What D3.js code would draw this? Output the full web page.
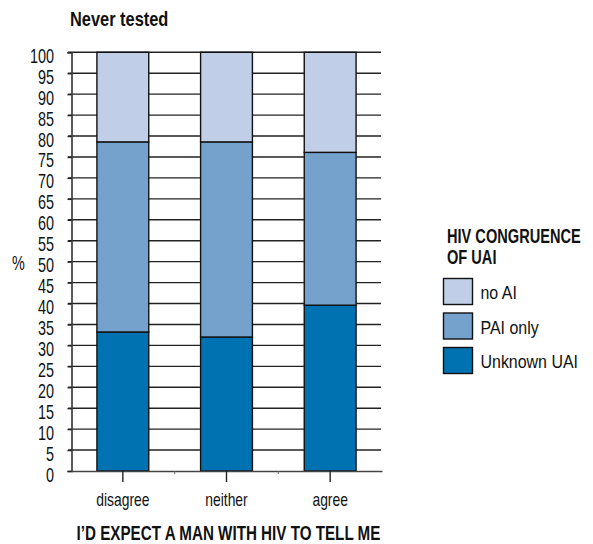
<!DOCTYPE html>
<html>
<head>
<meta charset="utf-8">
<script src="https://cdn.jsdelivr.net/npm/d3@7"></script>
<style>
  html, body { margin: 0; padding: 0; background: #fff; }
  svg { display: block; }
  text { font-family: "Liberation Sans", Arial, sans-serif; fill: #111; }
</style>
</head>
<body>
<svg id="chart" width="593" height="544"></svg>
<script>
// Response categories on the x axis
const categories = ["disagree", "neither", "agree"];
// Stacked series, bottom to top (percent)
const seriesNames = ["Unknown UAI", "PAI only", "no AI"];
const unknownUAI = [33.2, 32.0, 39.6];
const paiOnly    = [45.4, 46.6, 36.5];
const noAI       = [21.4, 21.4, 23.9];
const seriesColors = ["#0072b2", "#75a1cd", "#c0cee7"];
const yTicks = [0, 5, 10, 15, 20, 25, 30, 35, 40, 45, 50, 55, 60, 65, 70, 75, 80, 85, 90, 95, 100];

const svg = d3.select("#chart");

// squeeze text horizontally to get a condensed face
function condense(sel, s) {
  sel.each(function () {
    const t = d3.select(this);
    const x0 = +(t.attr("x") || 0);
    t.attr("x", x0 / s).attr("transform", `scale(${s},1)`);
  });
  return sel;
}

const x = d3.scaleBand().domain(categories).range([71, 382]).paddingInner(0.5).paddingOuter(0.25);
const y = d3.scaleLinear().domain([0, 100]).range([471, 52.3]);

const rows = categories.map((c, i) => ({ cat: c, "Unknown UAI": unknownUAI[i], "PAI only": paiOnly[i], "no AI": noAI[i] }));
const stacked = d3.stack().keys(seriesNames)(rows);
const color = d3.scaleOrdinal().domain(seriesNames).range(seriesColors);

// Horizontal grid lines
svg.append("g").selectAll("line").data(yTicks.slice(1)).join("line")
  .attr("x1", 68).attr("x2", 381)
  .attr("y1", d => y(d)).attr("y2", d => y(d))
  .attr("stroke", "#222").attr("stroke-width", 1.4);

// Stacked bars
svg.append("g").selectAll("g").data(stacked).join("g")
  .attr("fill", d => color(d.key))
  .selectAll("rect").data(d => d).join("rect")
  .attr("x", d => x(d.data.cat))
  .attr("width", x.bandwidth())
  .attr("y", d => y(d[1]))
  .attr("height", d => y(d[0]) - y(d[1]))
  .attr("stroke", "#111").attr("stroke-width", 1.4);

// Y axis
const yAxis = svg.append("g").attr("transform", "translate(71.5,0)")
  .call(d3.axisLeft(y).tickValues(yTicks).tickSize(4).tickPadding(13.5).tickFormat(d3.format("d")));
yAxis.select(".domain").attr("stroke", "#333").attr("stroke-width", 1.6);
yAxis.selectAll(".tick line").attr("stroke", "#222").attr("stroke-width", 1.4);
const yLabels = yAxis.selectAll(".tick text").attr("font-size", 20).attr("dy", "0.5em")
  .attr("font-family", null).style("fill", "#111");
condense(yLabels, 0.72);

// X axis
const xAxis = svg.append("g").attr("transform", "translate(0,471)")
  .call(d3.axisBottom(x).tickSize(11).tickPadding(11).tickSizeOuter(0));
xAxis.select(".domain").attr("stroke", "#444").attr("stroke-width", 1.4);
xAxis.selectAll(".tick line").attr("stroke", "#222").attr("stroke-width", 1.4);
const xLabels = xAxis.selectAll(".tick text").attr("font-size", 19).attr("font-family", null).style("fill", "#111");
condense(xLabels, 0.73);
// small marks at band boundaries
svg.append("g").selectAll("line").data(categories.slice(1)).join("line")
  .attr("x1", d => x(d) - x.step() * x.paddingInner() / 2).attr("x2", d => x(d) - x.step() * x.paddingInner() / 2)
  .attr("y1", 471).attr("y2", 474).attr("stroke", "#666").attr("stroke-width", 1);

// Titles
condense(svg.append("text").attr("x", 70).attr("y", 26).attr("font-size", 20).attr("font-weight", "bold").text("Never tested"), 0.82);
condense(svg.append("text").attr("x", 12).attr("y", 270).attr("font-size", 20).text("%"), 0.72);
condense(svg.append("text").attr("x", 228.5).attr("y", 540).attr("text-anchor", "middle").attr("font-size", 20).attr("font-weight", "bold")
  .text("I\u2019D EXPECT A MAN WITH HIV TO TELL ME"), 0.76);

// Legend
const legend = svg.append("g");
condense(legend.append("text").attr("x", 447).attr("y", 243).attr("font-size", 20).attr("font-weight", "bold").text("HIV CONGRUENCE"), 0.73);
condense(legend.append("text").attr("x", 447).attr("y", 264).attr("font-size", 20).attr("font-weight", "bold").text("OF UAI"), 0.73);
const legendOrder = ["no AI", "PAI only", "Unknown UAI"];
const li = legend.selectAll("g.item").data(legendOrder).join("g").attr("class", "item")
  .attr("transform", (d, i) => `translate(443.5,${278.5 + i * 34.5})`);
li.append("rect").attr("width", 29).attr("height", 26).attr("fill", d => color(d)).attr("stroke", "#111").attr("stroke-width", 1.4);
condense(li.append("text").attr("x", 37).attr("y", 21).attr("font-size", 19).text(d => d), 0.84);
</script>
</body>
</html>
